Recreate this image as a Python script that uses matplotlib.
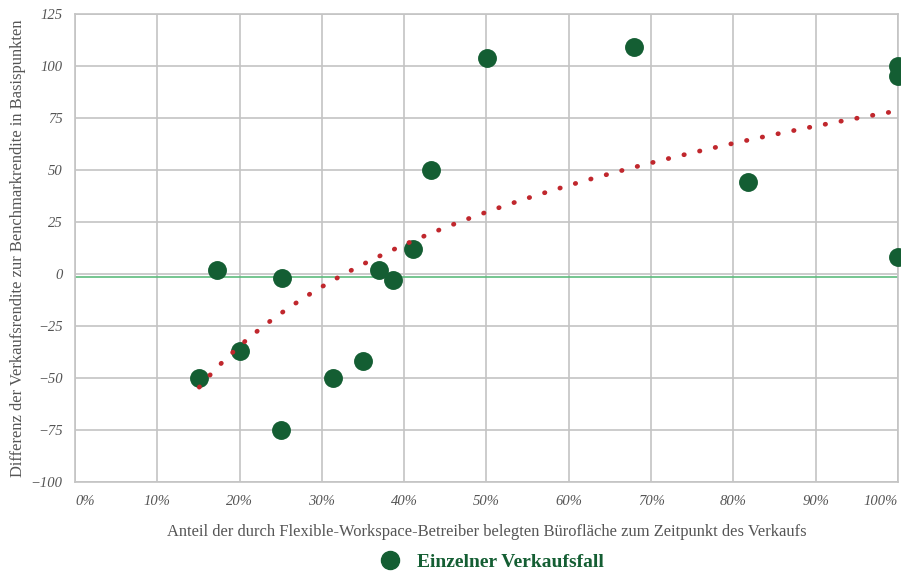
import numpy as np
import matplotlib
matplotlib.use('Agg')
import matplotlib.pyplot as plt
from matplotlib.lines import Line2D

# Anteil Flex-Fläche (%) und Renditedifferenz (Basispunkte)
anteil = [15.1, 17.2, 20.1, 25.1, 25.0, 31.4, 35.0, 36.9, 38.6, 41.1, 43.2,
          50.1, 67.9, 81.8, 100.0, 100.0, 100.0]
differenz = [-50, 2, -37, -2, -75, -50, -42, 2, -3, 12, 50,
             104, 109, 44, 100, 95, 8]

x_ticks = [0, 10, 20, 30, 40, 50, 60, 70, 80, 90, 100]
y_ticks = [-100, -75, -50, -25, 0, 25, 50, 75, 100, 125]
referenz = -1.5

grau = '#555555'
gruen = '#145e33'
rot = '#c0272d'

plt.rcParams['font.family'] = ['Liberation Serif', 'DejaVu Serif']

fig = plt.figure(figsize=(9.01, 5.72), dpi=100)
ax = fig.add_axes([0.0832, 0.1573, 0.9135, 0.8182])

ax.set_xlim(0, 100)
ax.set_ylim(-100, 125)
ax.set_xticks(x_ticks)
ax.set_yticks(y_ticks)
ax.set_xticklabels([f'{v}%' for v in x_ticks])
ax.set_yticklabels([str(v).replace('-', '\u2212') for v in y_ticks])
ax.grid(True, color='#c4c4c4', linewidth=1.2)
ax.set_axisbelow(True)
for s in ax.spines.values():
    s.set_color('#c4c4c4')
    s.set_linewidth(1.2)
ax.tick_params(length=0, labelsize=10.5, labelcolor=grau, pad=9)
for lab in ax.get_xticklabels() + ax.get_yticklabels():
    lab.set_fontstyle('italic')
xl = ax.get_xticklabels()
xl[0].set_ha('left')
xl[-1].set_ha('right')

# Referenzlinie
ax.axhline(referenz, color='#5dbb7d', linewidth=1.2, zorder=2)

# logarithmische Trendlinie aus den Daten
b, a = np.polyfit(np.log(np.array(anteil) / 100), differenz, 1)
xt = np.linspace(min(anteil), 100, 200)
ax.plot(xt, a + b * np.log(xt / 100), color=rot, linewidth=3.4,
        linestyle=(0, (0.1, 3.3)), dash_capstyle='round', zorder=4)

ax.scatter(anteil, differenz, s=185, color=gruen, zorder=3, clip_on=False,
           linewidths=0)

ax.set_xlabel('Anteil der durch Flexible-Workspace-Betreiber belegten Bürofläche zum Zeitpunkt des Verkaufs',
              fontsize=11.9, color=grau, labelpad=12)
ax.set_ylabel('Differenz der Verkaufsrendite zur Benchmarkrendite in Basispunkten',
              fontsize=11.9, color=grau, labelpad=3)

handle = Line2D([], [], marker='o', linestyle='none', color=gruen, markersize=13)
leg = fig.legend([handle], ['Einzelner Verkaufsfall'], loc='lower center',
                 bbox_to_anchor=(0.541, -0.028), frameon=False, handletextpad=0.4,
                 prop={'size': 14, 'weight': 'bold'})
for t in leg.get_texts():
    t.set_color(gruen)

fig.savefig('out.png', dpi=100)
